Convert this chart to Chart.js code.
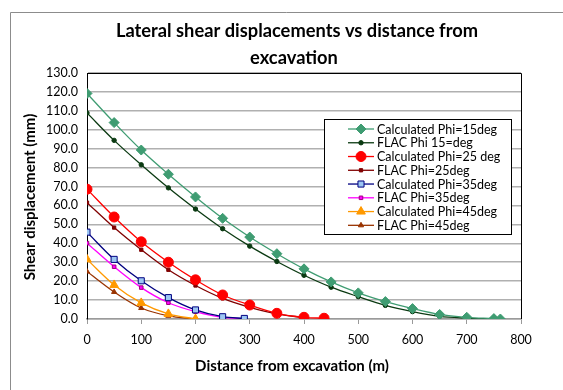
<!DOCTYPE html>
<html>
<head>
<meta charset="utf-8">
<script src="https://cdn.jsdelivr.net/npm/chart.js@4/dist/chart.umd.min.js"></script>
<style>
  html, body { margin: 0; padding: 0; background: #fff; }
  #wrap { width: 563px; height: 390px; position: relative; }
</style>
</head>
<body>
<div id="wrap"><canvas id="c" width="563" height="390"></canvas></div>
<script>
// Distance from excavation (m) for each series
const xCalc15 = [0, 50, 100, 150, 200, 250, 300, 350, 400, 450, 500, 550, 600, 650, 700, 750, 762];
const xFlac15 = [0, 50, 100, 150, 200, 250, 300, 350, 400, 450, 500, 550, 600, 650, 700, 750];
const xCalc25 = [0, 50, 100, 150, 200, 250, 300, 350, 400, 437];
const xFlac25 = [0, 50, 100, 150, 200, 250, 300, 350, 400];
const xCalc35 = [0, 50, 100, 150, 200, 250, 290];
const xFlac35 = [0, 50, 100, 150, 200, 250, 290];
const xCalc45 = [0, 50, 100, 150, 200];
const xFlac45 = [0, 50, 100, 150, 200];

// Shear displacement (mm)
const yCalc15 = [119.2, 103.8, 89.3, 76.5, 64.5, 53.2, 43.3, 34.5, 26.5, 19.6, 13.8, 9.2, 5.5, 2.4, 0.9, 0.2, 0.0];
const yFlac15 = [108.9, 94.4, 81.5, 69.3, 58.1, 47.7, 38.5, 30.4, 23.1, 16.8, 11.8, 7.2, 3.9, 1.4, 0.5, 0.0];
const yCalc25 = [68.6, 53.9, 40.8, 30.0, 20.7, 12.7, 7.4, 3.0, 0.9, 0.4];
const yFlac25 = [61.5, 48.3, 36.6, 26.0, 17.7, 10.9, 6.2, 2.7, 0.7];
const yCalc35 = [45.9, 31.5, 20.2, 11.3, 4.8, 1.2, 0.3];
const yFlac35 = [40.1, 27.6, 16.6, 8.6, 3.9, 0.9, 0.2];
const yCalc45 = [31.5, 18.0, 8.5, 2.7, 0.0];
const yFlac45 = [25.1, 14.3, 5.8, 1.7, 0.0];

const seriesNames = [
  'Calculated Phi=15deg', 'FLAC Phi 15=deg',
  'Calculated Phi=25 deg', 'FLAC Phi=25deg',
  'Calculated Phi=35deg', 'FLAC Phi=35deg',
  'Calculated Phi=45deg', 'FLAC Phi=45deg'
];

const chartTitle = ['Lateral shear displacements vs distance from', 'excavation'];
const xAxisTitle = 'Distance from excavation (m)';
const yAxisTitle = 'Shear displacement (mm)';

const xTicks = [0, 100, 200, 300, 400, 500, 600, 700, 800];
const yTicks = [0, 10, 20, 30, 40, 50, 60, 70, 80, 90, 100, 110, 120, 130];

const FONT = 'Lato, "Open Sans", sans-serif';

function pts(xs, ys) { return xs.map((x, i) => ({ x: x, y: ys[i] })); }

function series(label, xs, ys, line, fill, border, style, radius) {
  return {
    label: label,
    data: pts(xs, ys),
    showLine: true,
    borderColor: line,
    borderWidth: 1.3,
    cubicInterpolationMode: 'monotone',
    pointStyle: style,
    pointRadius: radius,
    pointHoverRadius: radius,
    pointBackgroundColor: fill,
    pointBorderColor: border,
    pointBorderWidth: 1
  };
}

const datasets = [
  series(seriesNames[0], xCalc15, yCalc15, '#3f9c72', '#3f9c72', '#3f9c72', 'rectRot', 5),
  series(seriesNames[1], xFlac15, yFlac15, '#0b3a12', '#0b3a12', '#0b3a12', 'circle', 2.2),
  series(seriesNames[2], xCalc25, yCalc25, '#ff0000', '#ff0000', '#ff0000', 'circle', 5),
  series(seriesNames[3], xFlac25, yFlac25, '#800000', '#800000', '#800000', 'rect', 2.3),
  series(seriesNames[4], xCalc35, yCalc35, '#000080', '#9cc6f2', '#000080', 'rect', 4.3),
  series(seriesNames[5], xFlac35, yFlac35, '#ff00ff', '#ff00ff', '#a0007f', 'rect', 2.5),
  series(seriesNames[6], xCalc45, yCalc45, '#ff9900', '#ff9900', '#ff9900', 'triangle', 5),
  series(seriesNames[7], xFlac45, yFlac45, '#993300', '#993300', '#993300', 'triangle', 3)
];

// Frame, titles and boxed legend drawn on top of the chart
const decorations = {
  id: 'decorations',
  beforeDraw(chart) {
    const ctx = chart.ctx;
    ctx.save();
    ctx.strokeStyle = '#8c8c8c';
    ctx.lineWidth = 1;
    ctx.beginPath();
    ctx.moveTo(10.5, 390);
    ctx.lineTo(10.5, 12.5);
    ctx.lineTo(563, 12.5);
    ctx.stroke();
    ctx.restore();
  },
  beforeDatasetsDraw(chart) {
    const { ctx, chartArea: a } = chart;
    ctx.save();
    ctx.strokeStyle = '#000';
    ctx.lineWidth = 1;
    ctx.beginPath();
    ctx.moveTo(a.left, Math.round(a.top) + 0.5);
    ctx.lineTo(Math.round(a.right) + 0.5, Math.round(a.top) + 0.5);
    ctx.lineTo(Math.round(a.right) + 0.5, a.bottom);
    ctx.stroke();
    ctx.restore();
  },
  afterDraw(chart) {
    const ctx = chart.ctx;
    ctx.save();
    ctx.fillStyle = '#000';
    ctx.textAlign = 'center';
    ctx.textBaseline = 'middle';
    ctx.font = 'bold 18.3px ' + FONT;
    ctx.fillText(chartTitle[0], 297, 31);
    ctx.fillText(chartTitle[1], 294, 58);

    ctx.font = 'bold 15px ' + FONT;
    ctx.fillText(xAxisTitle, 292, 366);
    ctx.save();
    ctx.translate(30, 197);
    ctx.rotate(-Math.PI / 2);
    ctx.fillText(yAxisTitle, 0, 0);
    ctx.restore();

    // legend box
    const bx = 324.5, by = 119.5, bw = 187, bh = 115;
    ctx.fillStyle = '#fff';
    ctx.fillRect(bx, by, bw, bh);
    ctx.strokeStyle = '#000';
    ctx.lineWidth = 1;
    ctx.strokeRect(bx, by, bw, bh);
    ctx.font = '12.5px ' + FONT;
    ctx.textAlign = 'left';
    chart.data.datasets.forEach((ds, i) => {
      const y = 129 + i * 13.76;
      ctx.strokeStyle = ds.borderColor;
      ctx.lineWidth = 1.3;
      ctx.beginPath();
      ctx.moveTo(348, y);
      ctx.lineTo(374, y);
      ctx.stroke();
      ctx.fillStyle = ds.pointBackgroundColor;
      ctx.strokeStyle = ds.pointBorderColor;
      ctx.lineWidth = 1;
      Chart.helpers.drawPoint(ctx, {
        pointStyle: ds.pointStyle,
        radius: ds.pointRadius,
        rotation: 0,
        borderWidth: 1
      }, 361, y);
      ctx.fillStyle = '#000';
      ctx.fillText(ds.label, 377, y + 0.5);
    });
    ctx.restore();
  }
};

new Chart(document.getElementById('c'), {
  type: 'scatter',
  data: { datasets: datasets },
  plugins: [decorations],
  options: {
    responsive: false,
    animation: false,
    events: [],
    layout: { padding: { left: 0, right: 42, top: 73, bottom: 0 } },
    plugins: {
      legend: { display: false },
      title: { display: false },
      tooltip: { enabled: false }
    },
    scales: {
      x: {
        type: 'linear',
        min: 0,
        max: 800,
        afterFit(scale) { scale.height = 71; },
        afterBuildTicks(scale) { scale.ticks = xTicks.map(v => ({ value: v })); },
        grid: {
          drawOnChartArea: false,
          drawTicks: true,
          tickLength: 5,
          color: '#9a9a9a'
        },
        border: { color: '#9a9a9a', width: 1.5 },
        ticks: {
          color: '#000',
          padding: 8,
          font: { family: FONT, size: 12.5 },
          maxRotation: 0,
          callback: v => String(v)
        }
      },
      y: {
        type: 'linear',
        min: 0,
        max: 130,
        afterFit(scale) { scale.width = 87; },
        afterBuildTicks(scale) { scale.ticks = yTicks.map(v => ({ value: v })); },
        grid: {
          drawTicks: false,
          color: '#b0b0b0',
          lineWidth: 1.5
        },
        border: { color: '#000', width: 1 },
        ticks: {
          color: '#000',
          padding: 9,
          font: { family: FONT, size: 12.5 },
          callback: v => v.toFixed(1)
        }
      }
    }
  }
});
</script>
</body>
</html>
